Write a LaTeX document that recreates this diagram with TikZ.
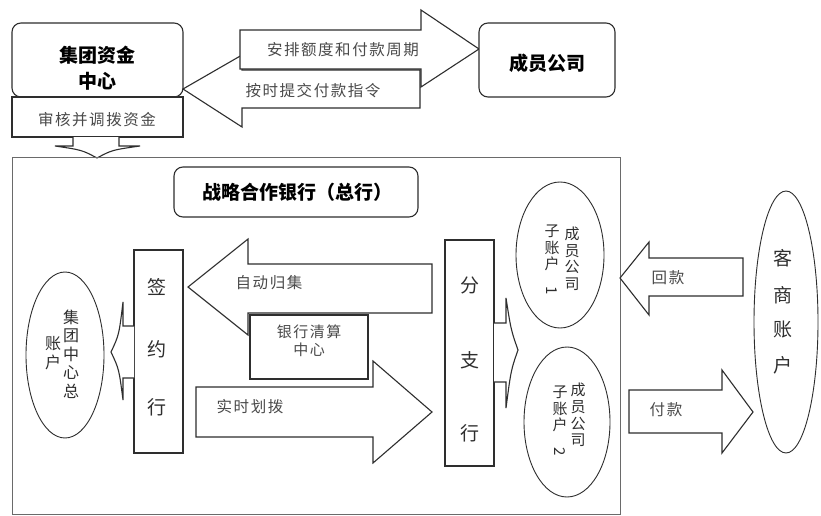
\documentclass[tikz,border=0pt]{standalone}
\usepackage{fontspec}
\setmainfont{Noto Sans CJK SC}
\newfontfamily\lsfont{Noto Sans CJK SC}[LetterSpace=10]
\usetikzlibrary{shapes.geometric}
\definecolor{lc}{HTML}{2E2E2E}
\definecolor{txt}{HTML}{4A4A4A}
\definecolor{frame}{HTML}{6A6A6A}
\begin{document}
\begin{tikzpicture}[x=1pt,y=-1pt,
  blk/.style={draw=lc, fill=white, line width=1.1pt, line join=miter},
  rbox/.style={draw=lc, fill=white, line width=1.1pt, rounded corners=9pt},
  lbl/.style={text=txt, inner sep=0pt, font=\lsfont\fontsize{15.5}{17}\selectfont},
  ttl/.style={text=black, inner sep=0pt, align=center, font=\fontsize{19}{26}\selectfont\bfseries},
  vch/.style={text=lc, inner sep=0pt, font=\fontsize{19}{20}\selectfont},
  ell/.style={ellipse, draw=lc, line width=0.9pt, inner sep=0pt},
  etx/.style={text=lc, inner sep=0pt, align=center}
]
\useasboundingbox (0,0) rectangle (821,516);
\fill[white] (0,0) rectangle (821,516);

% ---- top part ----
\draw[rbox] (12,23) rectangle (183,97);
\node[ttl] (jt) at (97,68) {集团资金\\中心};
\draw[blk] (12,97) rectangle (183,137);
\node[lbl] (sh) at (97,120) {审核并调拨资金};
\draw[blk] (73,137) -- (73,146) -- (55,146) .. controls (82,150) .. (97,158)
  .. controls (112,150) .. (140,146) -- (119,146) -- (119,137);

\draw[blk] (420,70) -- (242,70) -- (242,55) -- (183,89) -- (242,127) -- (242,108) -- (420,108) -- cycle;
\draw[blk] (240,30) -- (421,30) -- (421,10) -- (479,49) -- (421,87) -- (421,69) -- (240,69) -- cycle;
\node[lbl] (ap) at (343,50) {安排额度和付款周期};
\node[lbl] (as) at (313,91) {按时提交付款指令};

\draw[rbox] (479,23) rectangle (615,97);
\node[ttl] (cy) at (547,63) {成员公司};

% ---- bank frame ----
\draw[draw=frame, line width=1pt] (12,157) rectangle (620,514);
\draw[rbox] (174,167) rectangle (418,217);
\node[ttl] (zl) at (297,192) {战略合作银行（总行）};

% 签约行
\draw[blk] (134,250) rectangle (183,453);
\node[vch] (q1) at (157,287) {签};
\node[vch] (q2) at (157,349) {约};
\node[vch] (q3) at (157,407) {行};
\draw[blk] (134,326) -- (123,326) -- (123,302) .. controls (119,335) .. (111,352)
  .. controls (119,369) .. (123,400) -- (123,378) -- (134,378);

% 集团中心总账户
\node[ell, minimum width=78pt, minimum height=166pt] (zh) at (65,355) {};
\node[etx, font=\fontsize{16}{18.5}\selectfont] (zh1) at (71,354) {集\\团\\中\\心\\总};
\node[etx, font=\fontsize{16}{18.5}\selectfont] (zh2) at (53,353) {账\\户};

% block arrows in the middle
\draw[blk] (432,264) -- (248,264) -- (248,239) -- (188,287) -- (248,335) -- (248,313) -- (432,313) -- cycle;
\node[lbl] (zd) at (269,283) {自动归集};
\draw[blk] (196,387) -- (373,387) -- (373,361) -- (432,412) -- (373,463) -- (373,437) -- (196,437) -- cycle;
\node[lbl] (ss) at (250,407) {实时划拨};
\draw[blk] (250,315) rectangle (368,379);
\node[lbl, align=center, font=\lsfont\fontsize{15}{18}\selectfont] (qs) at (309,341) {银行清算\\中心};

% 分支行
\draw[blk] (445,240) rectangle (494,466);
\node[vch] (f1) at (470,285) {分};
\node[vch] (f2) at (470,360) {支};
\node[vch] (f3) at (470,433) {行};
\draw[blk] (494,323) -- (506,323) -- (506,298) .. controls (511,330) .. (518,350)
  .. controls (511,370) .. (506,408) -- (506,382) -- (494,382);

% 成员公司子账户 1 / 2
\node[ell, minimum width=88pt, minimum height=146pt] (e1) at (560,255) {};
\node[etx, font=\fontsize{15}{16.5}\selectfont] (e1a) at (572,259) {成\\员\\公\\司};
\node[etx, font=\fontsize{15}{16.5}\selectfont] (e1b) at (552,260) {子\\账\\户\\\rotatebox{-90}{1}};
\node[ell, minimum width=86pt, minimum height=150pt] (e2) at (567,422) {};
\node[etx, font=\fontsize{15}{16.5}\selectfont] (e2a) at (578,415) {成\\员\\公\\司};
\node[etx, font=\fontsize{15}{16.5}\selectfont] (e2b) at (560,421) {子\\账\\户\\\rotatebox{-90}{2}};

% 回款 / 付款
\draw[blk] (743,258) -- (649,258) -- (649,242) -- (620,278) -- (649,315) -- (649,296) -- (743,296) -- cycle;
\node[lbl] (hk) at (668,278) {回款};
\draw[blk] (629,390) -- (722,390) -- (722,370) -- (753,412) -- (722,453) -- (722,433) -- (629,433) -- cycle;
\node[lbl] (fk) at (666,410) {付款};

% 客商账户
\node[ell, minimum width=64pt, minimum height=262pt] (ks) at (786,322) {};
\node[vch] (k1) at (783,258) {客};
\node[vch] (k2) at (783,295) {商};
\node[vch] (k3) at (783,330) {账};
\node[vch] (k4) at (783,365) {户};
\end{tikzpicture}
\end{document}
